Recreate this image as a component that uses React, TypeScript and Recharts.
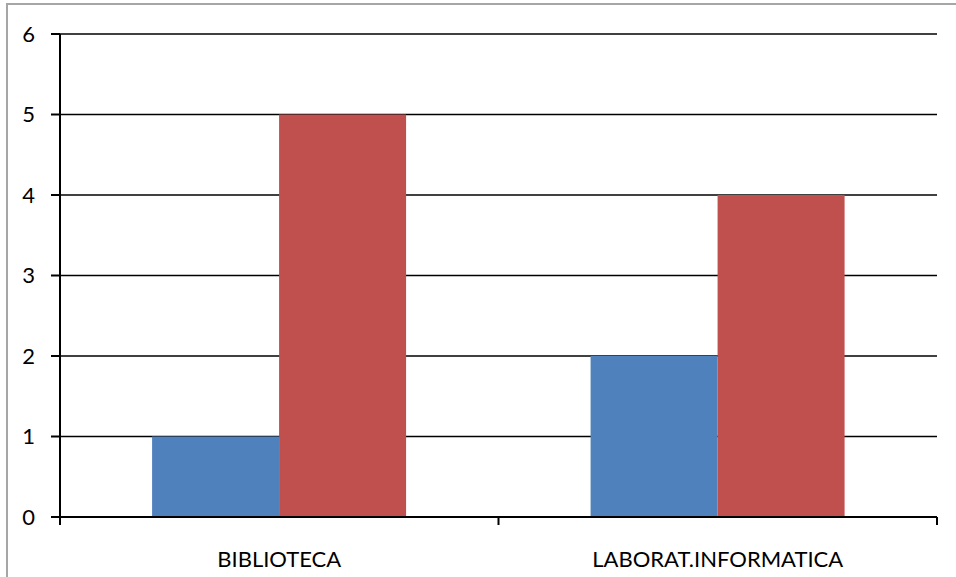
import React from "react";
import { BarChart, Bar, XAxis, YAxis, CartesianGrid } from "recharts";

const categories = ["BIBLIOTECA", "LABORAT.INFORMATICA"];
const seriesA = [1, 2];
const seriesB = [5, 4];
const yTicks = [0, 1, 2, 3, 4, 5, 6];

const data = categories.map((name, i) => ({ name, a: seriesA[i], b: seriesB[i] }));

const font = "Lato, 'Open Sans', sans-serif";
const labelGap = 34;

// category label plus the boundary tick marks Excel draws between categories
const CategoryTick = (props: any) => {
  const { x, y, payload, index, visibleTicksCount } = props;
  const half = payload?.offset ?? 0;
  const axisY = y - labelGap;
  const isLast = index === visibleTicksCount - 1;
  return (
    <g>
      <line x1={x - half} x2={x - half} y1={axisY} y2={axisY + 8} stroke="#000" strokeWidth={2} />
      {isLast && <line x1={x + half} x2={x + half} y1={axisY} y2={axisY + 8} stroke="#000" strokeWidth={2} />}
      <text x={x} y={y} dy="0.71em" textAnchor="middle" fill="#000" fontSize={22} fontFamily={font}>
        {payload.value}
      </text>
    </g>
  );
};

const App: React.FC = () => {
  return (
    <div style={{ position: "absolute", left: 0, top: 0, width: 956, height: 577, overflow: "hidden", background: "#fff" }}>
      <div
        style={{
          position: "absolute",
          left: 6,
          top: 3,
          width: 970,
          height: 600,
          border: "2px solid #a6a6a6",
          boxSizing: "border-box",
        }}
      />
      <BarChart
        width={956}
        height={577}
        data={data}
        margin={{ top: 34, right: 19, left: 0, bottom: 30 }}
        barCategoryGap="21%"
        barGap={0}
        style={{ position: "absolute", left: 0, top: 0, fontFamily: font }}
      >
        <CartesianGrid vertical={false} stroke="#000" strokeWidth={1.5} />
        <XAxis
          dataKey="name"
          height={30}
          interval={0}
          axisLine={{ stroke: "#000", strokeWidth: 2 }}
          tickLine={false}
          tickSize={0}
          tickMargin={labelGap}
          tick={CategoryTick}
        />
        <YAxis
          width={60}
          domain={[0, 6]}
          ticks={yTicks}
          interval={0}
          axisLine={{ stroke: "#000", strokeWidth: 2 }}
          tickLine={{ stroke: "#000", strokeWidth: 2 }}
          tickSize={9}
          tickMargin={16}
          tick={{ fill: "#000", fontSize: 22, fontFamily: font }}
        />
        <Bar dataKey="a" fill="#4F81BD" isAnimationActive={false} />
        <Bar dataKey="b" fill="#C0504D" isAnimationActive={false} />
      </BarChart>
    </div>
  );
};

export default App;
